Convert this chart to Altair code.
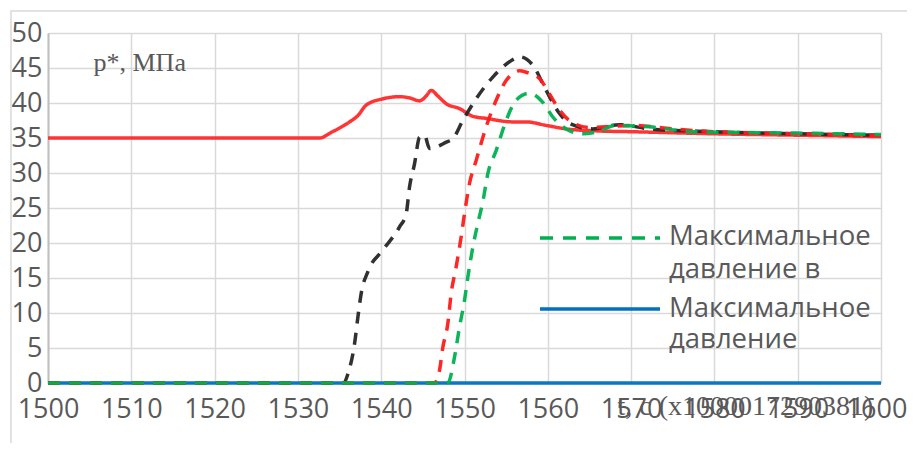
import altair as alt
import pandas as pd

# ---- data ----
red_solid_t = [1500, 1532.6, 1534.0, 1536.2, 1537.2, 1538.2, 1540.2, 1542.2, 1543.5, 1544.6,
               1545.4, 1546.0, 1546.8, 1547.8, 1549.4, 1551.0, 1552.6, 1555.8, 1557.4, 1559.8,
               1562.2, 1566.2, 1570, 1580, 1590, 1600]
red_solid_p = [35, 35, 35.8, 37.3, 38.2, 39.7, 40.6, 40.9, 40.7, 40.3,
               41.0, 41.8, 41.0, 39.9, 39.2, 38.1, 37.8, 37.3, 37.3, 36.8,
               36.3, 36.0, 35.9, 35.6, 35.4, 35.2]

black_t = [1500, 1535.5, 1536.0, 1536.8, 1537.2, 1537.6, 1538.4, 1540.2, 1542.2, 1543.0,
           1543.4, 1544.0, 1544.6, 1545.2, 1545.8, 1547.8, 1548.6, 1549.8, 1551.4, 1553.4,
           1555.4, 1556.6, 1558.2, 1559.8, 1561.4, 1562.6, 1565.4, 1568.6, 1572.2, 1580,
           1590, 1600]
black_p = [0, 0, 1.3, 5.6, 9.4, 12.8, 15.9, 19.0, 22.3, 24.2,
           28.0, 31.3, 35.1, 35.4, 33.5, 34.4, 34.9, 37.5, 40.6, 43.7,
           45.9, 46.6, 45.4, 41.8, 38.5, 37.1, 36.3, 36.9, 36.3, 35.9,
           35.6, 35.4]

red_dash_t = [1500, 1546.4, 1547.0, 1547.4, 1548.0, 1548.4, 1549.0, 1549.6, 1550.0, 1550.6,
              1551.4, 1552.6, 1553.8, 1555.0, 1556.6, 1557.4, 1559.0, 1560.2, 1561.4, 1562.6,
              1565.0, 1570.2, 1575, 1580, 1590, 1600]
red_dash_p = [0, 0, 1.8, 5.1, 8.5, 12.8, 16.6, 20.9, 24.2, 28.5,
              31.8, 36.6, 40.4, 43.2, 44.6, 44.4, 43.5, 41.3, 39.0, 37.5,
              36.5, 36.8, 36.3, 35.9, 35.6, 35.3]

green_t = [1500, 1548.0, 1548.8, 1549.4, 1550.0, 1550.4, 1551.0, 1551.6, 1552.2, 1552.8,
           1553.8, 1555.0, 1556.2, 1557.8, 1559.4, 1560.6, 1562.2, 1564.2, 1566.0, 1568.2,
           1572.2, 1577.4, 1590, 1600]
green_p = [0, 0, 3.7, 8.0, 11.8, 15.1, 19.4, 22.8, 25.9, 29.9,
           33.2, 37.5, 40.4, 41.4, 40.1, 38.0, 36.3, 35.6, 35.9, 36.8,
           36.6, 35.9, 35.7, 35.5]

blue_t = [1500, 1600]
blue_p = [0, 0]

series_names = ["Давление p*", "Давление 1", "Давление 2",
                "Максимальное давление в", "Максимальное давление"]
series_colors = ["#FF2A2A", "#262626", "#FF1A1A", "#00B050", "#0070C0"]
series_dash = [[1, 0], [12, 9], [12, 9], [12, 9], [1, 0]]

x_ticks = [1500, 1510, 1520, 1530, 1540, 1550, 1560, 1570, 1580, 1590, 1600]
y_ticks = [0, 5, 10, 15, 20, 25, 30, 35, 40, 45, 50]

y_title = "p*, МПа"
x_title = "t, с (x1000017290381)"
legend_lines = [["Максимальное", "давление в"], ["Максимальное", "давление"]]

rows = []
for name, ts, ps in [(series_names[4], blue_t, blue_p),
                     (series_names[0], red_solid_t, red_solid_p),
                     (series_names[1], black_t, black_p),
                     (series_names[2], red_dash_t, red_dash_p),
                     (series_names[3], green_t, green_p)]:
    for t, p in zip(ts, ps):
        rows.append({"series": name, "t": t, "p": p})
df = pd.DataFrame(rows)

FONT = "Open Sans"
GRID = "#D9D9D9"
TXT = "#595959"

xscale = alt.Scale(domain=[1500, 1600], nice=False, zero=False)
yscale = alt.Scale(domain=[0, 50], nice=False)

base = alt.Chart(df)

def series_layer(name, color, dash):
    return base.transform_filter(alt.datum.series == name).mark_line(
        color=color, strokeWidth=3.5, strokeDash=dash, interpolate="monotone",
        opacity=0.95
    ).encode(
        x=alt.X("t:Q", scale=xscale,
                axis=alt.Axis(values=x_ticks, format="d", grid=True, gridColor=GRID,
                              gridWidth=1.5, domain=False, ticks=False, labelFont=FONT,
                              labelFontSize=27, labelColor=TXT, labelPadding=13,
                              labelFlush=False,
                              labelOffset={"condition": {"test": "datum.value == 1600",
                                                         "value": -5},
                                           "value": 0},
                              title=x_title, titleFont="Liberation Serif", titleFontSize=28,
                              titleFontWeight="normal", titleColor=TXT,
                              titleX=569, titleY=31, titleAlign="left",
                              titleBaseline="alphabetic")),
        y=alt.Y("p:Q", scale=yscale,
                axis=alt.Axis(values=y_ticks, format="d", grid=True, gridColor=GRID,
                              gridWidth=1.5, domain=True, domainColor="#BFBFBF",
                              domainWidth=2, ticks=False, labelFont=FONT, labelFontSize=27,
                              labelColor=TXT, labelPadding=6, labelFlush=False,
                              title=y_title, titleFont="Liberation Serif", titleFontSize=26,
                              titleFontWeight="normal", titleColor=TXT, titleAngle=0,
                              titleX=45, titleY=37, titleAlign="left",
                              titleBaseline="alphabetic")),
    )

order = [4, 0, 1, 2, 3]
layers = [series_layer(series_names[i], series_colors[i], series_dash[i]) for i in order]

one = alt.Chart(pd.DataFrame({"k": [0]}))
border = one.mark_rect(fill=None, stroke=GRID, strokeWidth=1.5).encode(
    x=alt.value(-37), x2=alt.value(900), y=alt.value(-22), y2=alt.value(440))

leg_green = one.mark_rule(color=series_colors[3], strokeWidth=3.5, strokeDash=[13, 10]).encode(
    x=alt.value(492), x2=alt.value(612), y=alt.value(205))
leg_blue = one.mark_rule(color=series_colors[4], strokeWidth=3.5).encode(
    x=alt.value(492), x2=alt.value(612), y=alt.value(276))
leg_t1 = one.mark_text(align="left", baseline="alphabetic", font=FONT, fontSize=27.5,
                       color=TXT, lineHeight=33, text=legend_lines[0]).encode(
    x=alt.value(621), y=alt.value(212))
leg_t2 = one.mark_text(align="left", baseline="alphabetic", font=FONT, fontSize=27.5,
                       color=TXT, lineHeight=31, text=legend_lines[1]).encode(
    x=alt.value(621), y=alt.value(284))

chart = alt.layer(border, *layers, leg_green, leg_blue, leg_t1, leg_t2).properties(
    width=833, height=350,
    autosize=alt.AutoSizeParams(type="none"),
    padding={"left": 40, "top": 25, "right": 26, "bottom": 60},
).configure_view(stroke=None).configure(background="white")

chart.save("out.html", embed_options={"renderer": "svg", "actions": False})
